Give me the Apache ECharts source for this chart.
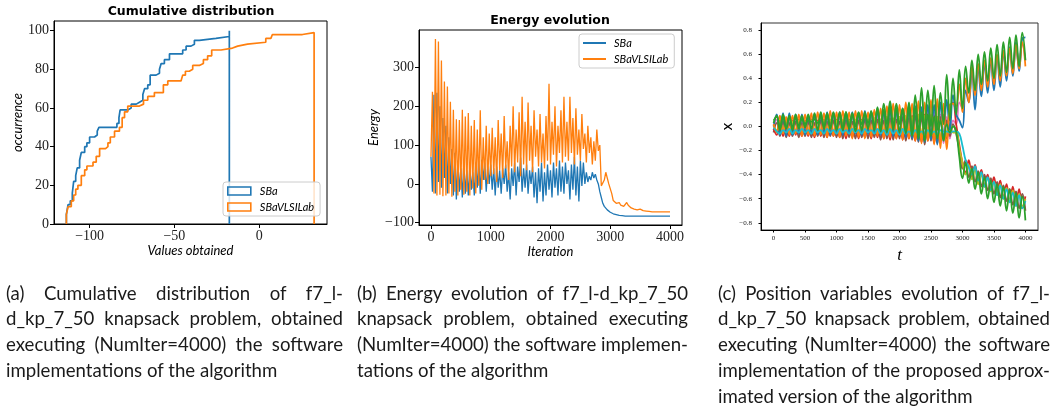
<!DOCTYPE html>
<html>
<head>
<meta charset="utf-8">
<script src="https://cdn.jsdelivr.net/npm/echarts@6/dist/echarts.min.js"></script>
<style>
  html, body { margin: 0; padding: 0; background: #fff; }
  #wrap { position: relative; width: 1057px; height: 409px; overflow: hidden; }
  #chart { position: absolute; left: 0; top: 0; width: 1057px; height: 409px; }
  .capline {
    position: absolute;
    white-space: nowrap;
    font-family: Lato, 'Noto Sans', sans-serif;
    font-size: 20px;
    line-height: 25.8px;
    color: #1a1a1a;
    transform-origin: 0 50%;
  }
</style>
</head>
<body>
<div id="wrap"><div id="chart"></div></div>
<script>
// ---- (a) cumulative distribution: breakpoints and count after each breakpoint
var cdfSBaX = [-113.7, -113.7, -112.7, -111.4, -110.2, -109.4, -108.2, -107.3, -105.9, -104.9,
  -102.9, -101.6, -100.0, -97.1, -95.5, -94.5, -83.9, -82.7, -82.0, -77.5,
  -75.5, -72.5, -70.6, -68.6, -67.6, -65.7, -64.3, -60.8, -58.8, -57.8,
  -55.9, -52.9, -45.1, -43.1, -40.2, -38.2, -35.3, -25.5, -17.6, -17.6]
var cdfSBaY = [0, 5, 10, 12, 16, 22, 25, 29, 33, 37,
  40, 42, 45, 46, 48, 50, 52, 55, 59, 60,
  62, 63, 64, 67, 70, 72, 77, 78, 80, 83,
  85, 88, 90, 92, 93, 95, 96, 97, 100, 0]
var cdfVLSIX = [-113.7, -113.7, -112.7, -110.8, -109.4, -108.2, -106.9, -104.9, -102.9, -101.6,
  -98.0, -96.1, -94.1, -90.6, -89.2, -87.8, -85.3, -82.4, -80.8, -79.4,
  -77.5, -70.6, -68.2, -65.7, -61.8, -56.5, -53.9, -46.1, -45.1, -43.5,
  -41.2, -39.2, -35.3, -32.9, -30.4, -28.0, -22.5, -15.7, -12.7, -6.9,
  3.9, 6.9, 7.8, 25.5, 32.4, 32.4]
var cdfVLSIY = [0, 5, 9, 12, 15, 18, 20, 25, 28, 30,
  32, 35, 39, 40, 42, 45, 48, 50, 55, 58,
  61, 62, 64, 66, 68, 72, 74, 75, 77, 79,
  80, 82, 83, 85, 87, 90, 91, 92, 93, 94,
  96, 97, 98, 99, 100, 0]
var cdfXTicks = [-100, -50, 0]
var cdfYTicks = [0, 20, 40, 60, 80, 100]

// ---- (b) energy, one value every ENERGY_STEP iterations
var ENERGY_STEP = 25
var energySBa = [
  70, -20, 230, -25, 235, 5, 200, -10, 170, 15,
  150, -25, 120, 0, 90, -30, 80, -40, 60, -20,
  40, -35, 55, -25, 35, -30, 45, -15, 30, -30,
  55, -10, 60, -25, 62, 10, 55, -20, 45, 0,
  50, -15, 40, -30, 45, -10, 35, -25, 40, 0,
  50, -20, 30, -40, 40, -5, 55, -30, 45, 5,
  68, -20, 40, -10, 50, -25, 35, 0, 45, -35,
  30, -50, 40, -20, 55, -45, 30, -30, 50, -15,
  35, -35, 55, -10, 40, -30, 60, -20, 45, -25,
  55, 0, 35, -40, 50, -15, 70, -30, 45, -45,
  60, -5, 55, 0, 30, 5, 20, 10, 30, 15,
  25, 10, 0, -20, -35, -50, -58, -63, -67, -70,
  -73, -75, -77, -78, -79, -80, -81, -82, -82, -83,
  -83, -83, -83, -83, -83, -83, -83, -83, -83, -83,
  -83, -83, -83, -83, -83, -83, -83, -83, -83, -83,
  -83, -83, -83, -83, -83, -83, -83, -83, -83, -83,
  -83]
var energyVLSI = [
  70, 238, -25, 374, -30, 367, -28, 318, -32, 264,
  -30, 251, -25, 212, -33, 191, -20, 167, -30, 165,
  -15, 191, -28, 174, -20, 183, -30, 150, -12, 165,
  -25, 140, -5, 190, -15, 120, 10, 150, 0, 130,
  20, 145, 25, 120, 5, 165, 35, 130, 15, 175,
  40, 110, 10, 150, 45, 200, 30, 140, 55, 185,
  20, 225, 50, 160, 35, 210, 60, 150, 30, 190,
  70, 140, 45, 180, 55, 130, 40, 175, 60, 258,
  50, 160, 75, 200, 45, 150, 80, 190, 55, 225,
  70, 160, 60, 225, 80, 170, 50, 195, 75, 140,
  60, 180, 90, 130, 55, 150, 80, 120, 50, 110,
  60, 140, 85, 100, -5, 0, 10, 30, 25, 0,
  -5, -25, -43, -46, -50, -52, -48, -55, -56, -58,
  -55, -48, -55, -60, -62, -63, -65, -66, -67, -66,
  -65, -68, -69, -70, -70, -71, -71, -71, -72, -72,
  -72, -72, -72, -72, -72, -72, -72, -72, -72, -72,
  -72]
var energyXTicks = [0, 1000, 2000, 3000, 4000]
var energyYTicks = [-100, 0, 100, 200, 300]

// ---- (c) position variables, one value every POS_STEP iterations
var POS_STEP = 50
var posBlue = [
  0.00, 0.10, -0.07, 0.11, -0.08, 0.11, -0.07, 0.10, -0.06, 0.10,
  -0.07, 0.09, -0.06, 0.10, -0.07, 0.11, -0.06, 0.12, -0.07, 0.11,
  -0.06, 0.12, -0.07, 0.11, -0.05, 0.12, -0.06, 0.11, -0.07, 0.13,
  -0.06, 0.12, -0.05, 0.13, -0.07, 0.12, -0.04, 0.14, -0.08, 0.13,
  -0.06, 0.15, -0.09, 0.14, -0.10, 0.17, -0.12, 0.16, -0.13, 0.18,
  -0.11, 0.18, -0.15, 0.20, -0.10, 0.22, -0.03, 0.26, 0.10, 0.05,
  -0.01, 0.30, 0.20, 0.47, 0.14, 0.48, 0.25, 0.52, 0.28, 0.55,
  0.30, 0.58, 0.33, 0.62, 0.38, 0.66, 0.42, 0.70, 0.46, 0.73,
  0.74]
var posOrange = [
  0.02, -0.05, 0.09, -0.06, 0.08, -0.07, 0.09, -0.06, 0.10, -0.08,
  0.10, -0.07, 0.11, -0.08, 0.12, -0.07, 0.11, -0.09, 0.13, -0.08,
  0.12, -0.09, 0.13, -0.08, 0.12, -0.10, 0.13, -0.09, 0.13, -0.10,
  0.12, -0.09, 0.14, -0.08, 0.15, -0.10, 0.17, -0.09, 0.19, -0.10,
  0.18, -0.11, 0.20, -0.10, 0.19, -0.12, 0.21, -0.14, 0.20, -0.12,
  0.22, -0.15, 0.23, -0.18, 0.19, -0.19, 0.18, 0.19, 0.17, 0.35,
  0.12, 0.40, 0.20, 0.50, 0.26, 0.52, 0.30, 0.55, 0.33, 0.57,
  0.35, 0.60, 0.38, 0.63, 0.42, 0.65, 0.44, 0.68, 0.48, 0.70,
  0.50]
var posGreen = [
  0.05, 0.08, -0.02, 0.09, -0.01, 0.08, 0.00, 0.07, 0.01, 0.06,
  0.02, 0.05, 0.04, 0.06, 0.03, 0.08, 0.00, 0.10, -0.02, 0.11,
  -0.03, 0.12, -0.02, 0.12, -0.01, 0.11, 0.00, 0.12, 0.02, 0.10,
  0.03, 0.12, 0.00, 0.15, -0.02, 0.19, 0.02, 0.21, 0.00, 0.19,
  0.02, 0.15, -0.04, 0.20, -0.06, 0.26, -0.05, 0.32, -0.02, 0.30,
  0.00, 0.34, -0.03, 0.28, 0.02, 0.43, 0.05, 0.40, 0.10, 0.47,
  0.15, 0.50, 0.28, 0.55, 0.30, 0.60, 0.35, 0.62, 0.38, 0.65,
  0.40, 0.68, 0.42, 0.70, 0.45, 0.74, 0.48, 0.76, 0.50, 0.78,
  0.55]
var posPink = [
  -0.03, 0.06, -0.06, 0.07, -0.05, 0.06, -0.06, 0.07, -0.05, 0.06,
  -0.06, 0.07, -0.05, 0.08, -0.06, 0.07, -0.05, 0.08, -0.06, 0.07,
  -0.05, 0.08, -0.06, 0.07, -0.05, 0.09, -0.06, 0.08, -0.05, 0.09,
  -0.06, 0.08, -0.05, 0.10, -0.07, 0.09, -0.06, 0.10, -0.08, 0.11,
  -0.07, 0.12, -0.09, 0.11, -0.08, 0.13, -0.10, 0.12, -0.09, 0.14,
  -0.10, 0.12, -0.12, 0.10, -0.14, 0.08, -0.10, 0.05, 0.02, 0.20,
  0.15, 0.38, 0.28, 0.45, 0.32, 0.50, 0.35, 0.53, 0.38, 0.56,
  0.40, 0.59, 0.43, 0.62, 0.45, 0.64, 0.48, 0.67, 0.50, 0.68,
  0.55]
var posRed = [
  -0.02, -0.07, 0.05, -0.08, 0.06, -0.08, 0.05, -0.07, 0.06, -0.08,
  0.05, -0.08, 0.06, -0.09, 0.05, -0.08, 0.06, -0.09, 0.05, -0.08,
  0.06, -0.09, 0.05, -0.10, 0.06, -0.09, 0.05, -0.10, 0.06, -0.09,
  0.05, -0.10, 0.07, -0.09, 0.06, -0.10, 0.08, -0.11, 0.06, -0.10,
  0.08, -0.11, 0.07, -0.10, 0.09, -0.12, 0.08, -0.13, 0.10, -0.12,
  0.09, -0.14, 0.08, -0.12, 0.10, -0.10, 0.12, 0.20, 0.02, -0.15,
  -0.30, -0.38, -0.28, -0.42, -0.32, -0.45, -0.36, -0.50, -0.40, -0.53,
  -0.42, -0.56, -0.45, -0.60, -0.48, -0.63, -0.50, -0.66, -0.52, -0.68,
  -0.58]
var posBrown = [
  -0.05, 0.03, -0.08, 0.04, -0.09, 0.03, -0.08, 0.04, -0.09, 0.03,
  -0.08, 0.04, -0.09, 0.03, -0.08, 0.05, -0.09, 0.04, -0.08, 0.05,
  -0.09, 0.04, -0.10, 0.05, -0.09, 0.04, -0.10, 0.05, -0.09, 0.06,
  -0.10, 0.05, -0.09, 0.06, -0.11, 0.05, -0.10, 0.07, -0.11, 0.06,
  -0.10, 0.08, -0.12, 0.07, -0.11, 0.09, -0.13, 0.08, -0.15, 0.10,
  -0.12, 0.09, -0.14, 0.08, -0.10, 0.05, -0.08, 0.02, -0.06, -0.20,
  -0.35, -0.28, -0.42, -0.33, -0.46, -0.37, -0.50, -0.40, -0.53, -0.43,
  -0.56, -0.46, -0.59, -0.49, -0.62, -0.52, -0.65, -0.54, -0.68, -0.56,
  -0.70]
var posCyan = [
  -0.01, -0.04, -0.06, -0.03, -0.05, -0.02, -0.06, -0.03, -0.05, -0.02,
  -0.05, -0.03, -0.06, -0.02, -0.05, -0.03, -0.06, -0.02, -0.05, -0.03,
  -0.06, -0.02, -0.05, -0.03, -0.06, -0.02, -0.05, -0.03, -0.06, -0.02,
  -0.05, -0.03, -0.06, -0.02, -0.06, -0.03, -0.07, -0.02, -0.06, -0.03,
  -0.07, -0.02, -0.06, -0.04, -0.07, -0.03, -0.06, -0.04, -0.07, -0.03,
  -0.06, -0.04, -0.07, -0.03, -0.05, -0.04, -0.05, -0.04, -0.04, -0.06,
  -0.16, -0.28, -0.34, -0.40, -0.33, -0.45, -0.38, -0.50, -0.42, -0.53,
  -0.46, -0.57, -0.49, -0.60, -0.52, -0.63, -0.55, -0.66, -0.57, -0.68,
  -0.62]
var posOlive = [
  0.01, -0.03, 0.04, -0.04, 0.05, -0.03, 0.04, -0.04, 0.05, -0.03,
  0.04, -0.04, 0.05, -0.03, 0.04, -0.05, 0.05, -0.04, 0.06, -0.05,
  0.05, -0.04, 0.06, -0.05, 0.05, -0.04, 0.06, -0.05, 0.05, -0.06,
  0.06, -0.05, 0.07, -0.06, 0.06, -0.05, 0.08, -0.06, 0.07, -0.07,
  0.08, -0.06, 0.09, -0.07, 0.08, -0.08, 0.10, -0.07, 0.09, -0.08,
  0.10, -0.09, 0.08, -0.10, 0.06, -0.08, 0.03, -0.05, -0.05, -0.18,
  -0.30, -0.40, -0.32, -0.44, -0.36, -0.48, -0.40, -0.50, -0.43, -0.54,
  -0.46, -0.57, -0.48, -0.60, -0.51, -0.62, -0.53, -0.65, -0.56, -0.66,
  -0.60]
var posGreen2 = [
  0.03, 0.09, -0.03, 0.10, -0.02, 0.09, -0.03, 0.10, -0.02, 0.09,
  -0.01, 0.10, -0.02, 0.11, -0.03, 0.12, -0.02, 0.11, -0.01, 0.12,
  -0.02, 0.11, -0.03, 0.12, -0.02, 0.10, -0.04, 0.11, -0.03, 0.12,
  -0.02, 0.13, -0.03, 0.16, -0.04, 0.14, -0.05, 0.18, -0.03, 0.15,
  -0.05, 0.14, -0.06, 0.18, -0.08, 0.15, -0.10, 0.12, -0.12, 0.10,
  -0.08, 0.08, -0.10, 0.05, -0.12, 0.02, -0.05, 0.00, -0.04, -0.25,
  -0.43, -0.30, -0.47, -0.35, -0.52, -0.38, -0.56, -0.42, -0.60, -0.45,
  -0.63, -0.48, -0.66, -0.50, -0.70, -0.52, -0.72, -0.55, -0.76, -0.58,
  -0.78]
var posXTicks = [0, 500, 1000, 1500, 2000, 2500, 3000, 3500, 4000]
var posYTicks = [-0.8, -0.6, -0.4, -0.2, 0, 0.2, 0.4, 0.6, 0.8]

// ---- captions
var captionA = ['(a) Cumulative distribution of f7_l-', 'd_kp_7_50 knapsack problem, obtained',
  'executing (NumIter=4000) the software', 'implementations of the algorithm']
var captionB = ['(b) Energy evolution of f7_l-d_kp_7_50', 'knapsack problem, obtained executing',
  '(NumIter=4000) the software implemen-', 'tations of the algorithm']
var captionC = ['(c) Position variables evolution of f7_l-', 'd_kp_7_50 knapsack problem, obtained',
  'executing (NumIter=4000) the software', 'implementation of the proposed approx-',
  'imated version of the algorithm']

var BLUE = '#1f77b4'
var ORANGE = '#ff7f0e'
var SERIF = "'Liberation Serif', 'DejaVu Serif', serif"
var SANS = "'DejaVu Sans', sans-serif"
var ITALIC = "Lato, 'Open Sans', sans-serif"

function minus (v) {
  return String(v).replace('-', '\u2212')
}
function zip (xs, ys) {
  return xs.map(function (x, i) { return [x, ys[i]] })
}
function stepped (values, step) {
  return values.map(function (v, i) { return [i * step, v] })
}

function axis (grid, min, max, ticks, o) {
  return {
    type: 'value',
    gridIndex: grid,
    min: min,
    max: max,
    splitLine: { show: false },
    axisLine: { show: true, onZero: false, lineStyle: { color: '#000', width: 1 } },
    axisTick: { show: true, length: o.tick, customValues: ticks, lineStyle: { color: '#000', width: 1 } },
    axisLabel: {
      customValues: ticks,
      formatter: o.fmt || minus,
      fontFamily: SERIF,
      fontSize: o.size,
      color: '#222',
      margin: o.margin
    },
    name: o.name,
    nameLocation: 'middle',
    nameGap: o.gap,
    nameTextStyle: o.nameStyle
  }
}

var italicName = { fontFamily: ITALIC, fontStyle: 'italic', fontSize: 13, color: '#000' }

var posSeries = [
  { data: posPink, color: '#e377c2' },
  { data: posBrown, color: '#8c564b' },
  { data: posRed, color: '#d62728' },
  { data: posOlive, color: '#bcbd22' },
  { data: posBlue, color: BLUE },
  { data: posOrange, color: ORANGE },
  { data: posCyan, color: '#17becf' },
  { data: posGreen2, color: '#2ca02c' },
  { data: posGreen, color: '#2ca02c' }
]

var gridStyle = { show: true, borderColor: '#000', borderWidth: 1, backgroundColor: 'rgba(0,0,0,0)' }
var legendBox = {
  orient: 'vertical',
  padding: [3, 6, 3, 4],
  itemGap: 4,
  itemWidth: 23,
  selectedMode: false,
  backgroundColor: 'rgba(255,255,255,0.8)',
  borderColor: '#cccccc',
  borderWidth: 1,
  borderRadius: 3
}

var option = {
  animation: false,
  backgroundColor: '#fff',
  grid: [
    Object.assign({ left: 54, top: 21, width: 273, height: 203 }, gridStyle),
    Object.assign({ left: 419, top: 30, width: 263, height: 195 }, gridStyle),
    Object.assign({ left: 761, top: 23, width: 277, height: 207 }, gridStyle, { borderColor: '#333' })
  ],
  xAxis: [
    axis(0, -121, 40, cdfXTicks, { tick: 4, size: 14, margin: 5, name: 'Values obtained', gap: 19, nameStyle: italicName }),
    axis(1, -200, 4200, energyXTicks, { tick: 4, size: 14, margin: 5, name: 'Iteration', gap: 19, nameStyle: italicName }),
    axis(2, -200, 4200, posXTicks, { tick: 2.5, size: 7, margin: 5, name: 't', gap: 15,
      nameStyle: { fontFamily: SERIF, fontStyle: 'italic', fontSize: 17, color: '#000' } })
  ],
  yAxis: [
    axis(0, 0, 105, cdfYTicks, { tick: 4, size: 14, margin: 5, name: 'occurrence', gap: 29, nameStyle: italicName }),
    axis(1, -106, 397, energyYTicks, { tick: 4, size: 14, margin: 5, name: 'Energy', gap: 39, nameStyle: italicName }),
    axis(2, -0.86, 0.86, posYTicks, { tick: 2.5, size: 7, margin: 9, name: 'x', gap: 25,
      fmt: function (v) { return minus(v.toFixed(1)) },
      nameStyle: { fontFamily: SANS, fontSize: 14, color: '#000' } })
  ],
  legend: [
    Object.assign({}, legendBox, {
      left: 223,
      top: 182,
      itemHeight: 8,
      textStyle: { fontFamily: ITALIC, fontStyle: 'italic', fontSize: 11, color: '#000', padding: [0, 0, 0, 4], lineHeight: 12 },
      data: [
        { name: 'SBa', icon: 'rect', itemStyle: { color: 'rgba(0,0,0,0)', borderColor: BLUE, borderWidth: 1.6 } },
        { name: 'SBaVLSILab', icon: 'rect', itemStyle: { color: 'rgba(0,0,0,0)', borderColor: ORANGE, borderWidth: 1.6 } }
      ]
    }),
    Object.assign({}, legendBox, {
      left: 579,
      top: 34,
      itemHeight: 2,
      textStyle: { fontFamily: ITALIC, fontStyle: 'italic', fontSize: 11, color: '#000', padding: [0, 0, 0, 3], lineHeight: 12 },
      data: [
        { name: 'SBa', icon: 'rect', itemStyle: { color: BLUE, borderWidth: 0 } },
        { name: 'SBaVLSILab', icon: 'rect', itemStyle: { color: ORANGE, borderWidth: 0 } }
      ]
    })
  ],
  graphic: [
    { type: 'text', x: 191, y: 12,
      style: { text: 'Cumulative distribution', font: 'bold 12.5px "DejaVu Sans"', fill: '#000',
        align: 'center', verticalAlign: 'middle', textAlign: 'center', textVerticalAlign: 'middle' } },
    { type: 'text', x: 550, y: 21,
      style: { text: 'Energy evolution', font: 'bold 12.5px "DejaVu Sans"', fill: '#000',
        align: 'center', verticalAlign: 'middle', textAlign: 'center', textVerticalAlign: 'middle' } }
  ],
  series: [
    { name: 'SBa', type: 'line', xAxisIndex: 0, yAxisIndex: 0, step: 'end', symbol: 'none',
      data: zip(cdfSBaX, cdfSBaY), lineStyle: { color: BLUE, width: 1.7 }, itemStyle: { color: BLUE } },
    { name: 'SBaVLSILab', type: 'line', xAxisIndex: 0, yAxisIndex: 0, step: 'end', symbol: 'none',
      data: zip(cdfVLSIX, cdfVLSIY), lineStyle: { color: ORANGE, width: 1.7 }, itemStyle: { color: ORANGE } },
    { name: 'SBa', type: 'line', xAxisIndex: 1, yAxisIndex: 1, symbol: 'none',
      data: stepped(energySBa, ENERGY_STEP), lineStyle: { color: BLUE, width: 1.3 }, itemStyle: { color: BLUE } },
    { name: 'SBaVLSILab', type: 'line', xAxisIndex: 1, yAxisIndex: 1, symbol: 'none',
      data: stepped(energyVLSI, ENERGY_STEP), lineStyle: { color: ORANGE, width: 1.3 }, itemStyle: { color: ORANGE } }
  ].concat(posSeries.map(function (s, i) {
    return {
      name: 'x' + i,
      type: 'line',
      xAxisIndex: 2,
      yAxisIndex: 2,
      symbol: 'none',
      smooth: 0.45,
      data: stepped(s.data, POS_STEP),
      lineStyle: { color: s.color, width: 1.8 },
      itemStyle: { color: s.color }
    }
  }))
}

var myChart = echarts.init(document.getElementById('chart'))
myChart.setOption(option)

// captions: every full line is stretched to the column width, all share one horizontal scale
var CAP_TOP = 279.6
var CAP_STEP = 25.8
function layoutCaptions (columns) {
  var wrap = document.getElementById('wrap')
  var scale = 1
  var built = columns.map(function (col) {
    var els = col.lines.map(function (t, k) {
      var d = document.createElement('div')
      d.className = 'capline'
      d.textContent = t
      d.style.left = col.left + 'px'
      d.style.top = (CAP_TOP + k * CAP_STEP) + 'px'
      wrap.appendChild(d)
      return d
    })
    var widths = els.map(function (e) { return e.getBoundingClientRect().width })
    for (var k = 0; k < els.length - 1; k++) {
      scale = Math.min(scale, (col.right - col.left) / widths[k])
    }
    return { col: col, els: els, widths: widths }
  })
  built.forEach(function (b) {
    var target = b.col.right - b.col.left
    b.els.forEach(function (e, k) {
      e.style.transform = 'scaleX(' + scale + ')'
      if (k < b.els.length - 1) {
        var spaces = (b.col.lines[k].match(/ /g) || []).length
        if (spaces) e.style.wordSpacing = ((target / scale - b.widths[k]) / spaces) + 'px'
      }
    })
  })
}
layoutCaptions([
  { lines: captionA, left: 6, right: 343 },
  { lines: captionB, left: 357, right: 688 },
  { lines: captionC, left: 718, right: 1050 }
])
</script>
</body>
</html>
